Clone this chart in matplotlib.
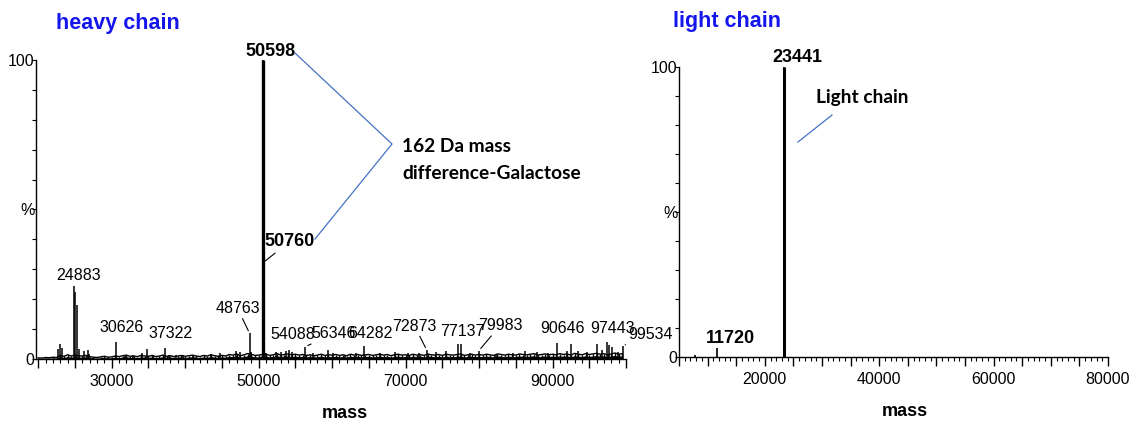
import matplotlib
matplotlib.use("Agg")
import matplotlib.pyplot as plt
from matplotlib.lines import Line2D
from matplotlib.ticker import MultipleLocator, FuncFormatter
import numpy as np

plt.rcParams['font.family'] = ['Liberation Sans', 'DejaVu Sans']

# --- heavy chain: resolved peaks (mass, relative intensity %) ---
heavy_mass = [22650, 22970, 23240, 24883, 25050, 25240, 25510, 26190, 26730, 26960,
              30626, 31850, 32850, 34120, 34760, 35570, 37322, 37840, 38750, 39660,
              41050, 43540, 44680, 46950, 47410, 48763, 49000, 50598, 50760, 51040,
              52300, 53080, 53760, 54088, 54570, 56346, 57390, 59430, 60120, 61700,
              63300, 64282, 66460, 68510, 70340, 71840, 72873, 74200, 75560, 77137,
              77600, 78720, 79983, 82370, 84650, 86230, 87820, 89420, 90646, 91910,
              92450, 93500, 94630, 95990, 96680, 97443, 97720, 98040, 98950, 99534]
heavy_int = [3.3, 5.0, 3.7, 24.3, 22.4, 18.0, 3.3, 2.8, 3.0, 1.8,
             5.8, 1.5, 1.3, 1.9, 3.5, 1.5, 3.7, 1.5, 1.3, 1.3,
             1.4, 1.6, 1.9, 2.7, 2.5, 8.6, 2.5, 100.0, 32.5, 2.0,
             2.4, 2.2, 2.7, 2.9, 2.5, 4.1, 1.9, 3.0, 1.9, 1.4,
             1.9, 4.2, 1.9, 2.4, 1.9, 1.9, 3.0, 2.4, 2.6, 5.1,
             5.0, 1.9, 2.8, 1.6, 1.9, 2.6, 2.2, 1.9, 5.5, 2.6,
             5.0, 2.6, 2.4, 5.1, 3.0, 5.8, 4.7, 4.1, 2.4, 4.4]

# baseline noise, one value every 500 Da from 20000 to 99500
noise_start, noise_step = 20000, 500
heavy_noise = [0.4, 0.3, 0.5, 0.4, 0.6, 0.5, 1.2, 0.9, 1.4, 1.0,
               1.3, 1.1, 1.0, 1.2, 0.8, 0.6, 0.5, 0.7, 0.9, 0.6,
               0.7, 1.0, 0.8, 1.1, 1.3, 0.9, 1.0, 0.8, 1.2, 1.0,
               0.9, 1.2, 0.8, 1.0, 1.3, 0.9, 1.1, 0.8, 1.0, 1.2,
               0.9, 1.1, 1.3, 1.0, 0.8, 1.2, 1.0, 1.4, 1.1, 0.9,
               1.2, 1.0, 1.5, 1.3, 1.7, 1.1, 1.4, 1.8, 1.6, 1.2,
               1.3, 1.5, 1.6, 1.2, 1.4, 1.8, 1.3, 1.5, 1.7, 1.4,
               1.6, 1.3, 1.5, 1.2, 1.4, 1.1, 1.3, 1.6, 1.2, 1.4,
               1.3, 1.5, 1.2, 1.4, 1.1, 1.6, 1.3, 1.5, 1.2, 1.4,
               1.5, 1.2, 1.4, 1.6, 1.3, 1.5, 1.1, 1.4, 1.6, 1.3,
               1.4, 1.2, 1.6, 1.3, 1.5, 1.2, 1.7, 1.4, 1.3, 1.5,
               1.2, 1.6, 1.4, 1.3, 1.5, 1.7, 1.2, 1.4, 1.6, 1.3,
               1.5, 1.3, 1.6, 1.4, 1.2, 1.7, 1.5, 1.3, 1.6, 1.4,
               1.3, 1.7, 1.5, 1.4, 1.6, 1.8, 1.3, 1.5, 1.7, 1.4,
               1.6, 1.4, 1.8, 1.5, 1.7, 1.3, 1.9, 1.6, 1.4, 1.8,
               1.5, 1.7, 1.9, 1.6, 1.8, 1.4, 1.7, 2.0, 1.6, 1.8]

# labelled heavy-chain peaks
heavy_labels = [24883, 30626, 37322, 48763, 54088, 56346, 64282,
                72873, 77137, 79983, 90646, 97443, 99534]
heavy_bold = [50598, 50760]

# --- light chain ---
light_mass = [7800, 11720, 23441]
light_int = [0.6, 3.1, 100.0]
light_labels = [11720, 23441]

W, H = 1141, 422
fig = plt.figure(figsize=(W / 100, H / 100), dpi=100)


def fp(x, y):
    return x / W, 1 - y / H


def style_axes(ax, xmin, xmax, label_every, label_offset):
    ax.set_xlim(xmin, xmax)
    ax.set_ylim(0, 100)
    for s in ['top', 'right']:
        ax.spines[s].set_visible(False)
    for s in ['left', 'bottom']:
        ax.spines[s].set_linewidth(1.0)
    ax.xaxis.set_major_locator(MultipleLocator(5000))
    ax.xaxis.set_minor_locator(MultipleLocator(1000))
    ax.xaxis.set_major_formatter(FuncFormatter(
        lambda v, p: f"{int(round(v))}" if round(v - label_offset) % label_every == 0 else ""))
    ax.yaxis.set_major_locator(MultipleLocator(50))
    ax.yaxis.set_minor_locator(MultipleLocator(10))
    ax.yaxis.set_major_formatter(FuncFormatter(
        lambda v, p: {0: "0", 50: "%", 100: "100"}.get(int(round(v)), "")))
    ax.tick_params(axis='x', which='major', direction='out', length=6.5, width=1, pad=4, labelsize=11.5)
    ax.tick_params(axis='x', which='minor', direction='out', length=3, width=0.8)
    ax.tick_params(axis='y', which='both', direction='out', length=3, width=0.8, pad=-2, labelsize=11.5)


# ---------------- heavy chain ----------------
ax1 = fig.add_axes([36 / W, 1 - 359 / H, 590 / W, 299 / H])
style_axes(ax1, 19700, 100000, 20000, 10000)

noise = np.array(heavy_noise)
noise_x = noise_start + noise_step * np.arange(len(noise))
ax1.fill_between(noise_x, 0, noise * 0.6, color='black', lw=0)
ax1.vlines(noise_x, 0, noise, color='black', lw=1.0)
ax1.plot(noise_x, noise, color='black', lw=1.0)
hm = np.array(heavy_mass)
hi = np.array(heavy_int)
ax1.vlines(hm, 0, hi, color='black', lw=1.1)
big = hi > 50
ax1.vlines(hm[big], 0, hi[big], color='black', lw=2.4)

# label text offsets in pixels (dx, dy) and whether a connector is drawn
lab_pos = {24883: (4, 11, False), 30626: (5, 14, False), 37322: (5, 14, False),
           48763: (-12, 25, True), 54088: (4, 16, False), 56346: (28, 13, True),
           64282: (7, 13, False), 72873: (-12, 24, True), 77137: (4, 12, False),
           79983: (21, 25, True), 90646: (5, 14, False), 97443: (5, 13, False),
           99534: (28, 11, True)}
for m in heavy_labels:
    h = heavy_int[heavy_mass.index(m)]
    dx, dy, conn = lab_pos[m]
    ax1.annotate(str(m), (m, h), xytext=(dx, dy), textcoords='offset pixels',
                 ha='center', va='center', fontsize=11.5, annotation_clip=False,
                 arrowprops=dict(arrowstyle='-', lw=0.8, color='black', shrinkA=0, shrinkB=2) if conn else None)

bold_pos = {50598: (7, 8, False), 50760: (25, 20, True)}
for m in heavy_bold:
    h = heavy_int[heavy_mass.index(m)]
    dx, dy, conn = bold_pos[m]
    ax1.annotate(str(m), (m, h), xytext=(dx, dy), textcoords='offset pixels',
                 ha='center', va='center', fontsize=13, fontweight='bold', annotation_clip=False,
                 arrowprops=dict(arrowstyle='-', lw=0.8, color='black', shrinkA=0, shrinkB=1) if conn else None)

# ---------------- light chain ----------------
ax2 = fig.add_axes([679 / W, 1 - 357 / H, 429 / W, 290 / H])
style_axes(ax2, 5000, 80000, 20000, 0)
lm = np.array(light_mass)
li = np.array(light_int)
ax2.vlines(lm, 0, li, color='black', lw=1.2)
ax2.vlines(lm[li > 50], 0, li[li > 50], color='black', lw=2.2)
for m in light_labels:
    h = light_int[light_mass.index(m)]
    ax2.annotate(str(m), (m, h), xytext=(13, 10), textcoords='offset pixels',
                 ha='center', va='center', fontsize=13, fontweight='bold', annotation_clip=False)

# ---------------- titles, axis labels, callouts ----------------
fig.text(*fp(56, 23), "heavy chain", color='#1515EE', fontsize=15.5, fontweight='bold', va='center', ha='left')
fig.text(*fp(673, 21), "light chain", color='#1515EE', fontsize=15.5, fontweight='bold', va='center', ha='left')
fig.text(*fp(345, 413), "mass", fontsize=13, fontweight='bold', ha='center', va='center')
fig.text(*fp(905, 412), "mass", fontsize=13, fontweight='bold', ha='center', va='center')

blue = '#4472C4'
xs, ys = zip(*[fp(295, 53), fp(392, 144), fp(315, 239)])
fig.add_artist(Line2D(xs, ys, color=blue, lw=0.9))
fig.text(*fp(402, 147), "162 Da mass", family=['Lato', 'DejaVu Sans'], fontsize=13.8,
         fontweight='bold', va='center', ha='left')
fig.text(*fp(402, 173), "difference-Galactose", family=['Lato', 'DejaVu Sans'], fontsize=13.8,
         fontweight='bold', va='center', ha='left')

xs, ys = zip(*[fp(832, 115), fp(798, 142)])
fig.add_artist(Line2D(xs, ys, color=blue, lw=0.9))
fig.text(*fp(816, 98), "Light chain", family=['Lato', 'DejaVu Sans'], fontsize=13.8,
         fontweight='bold', va='center', ha='left')

fig.savefig("out.png", dpi=100)
